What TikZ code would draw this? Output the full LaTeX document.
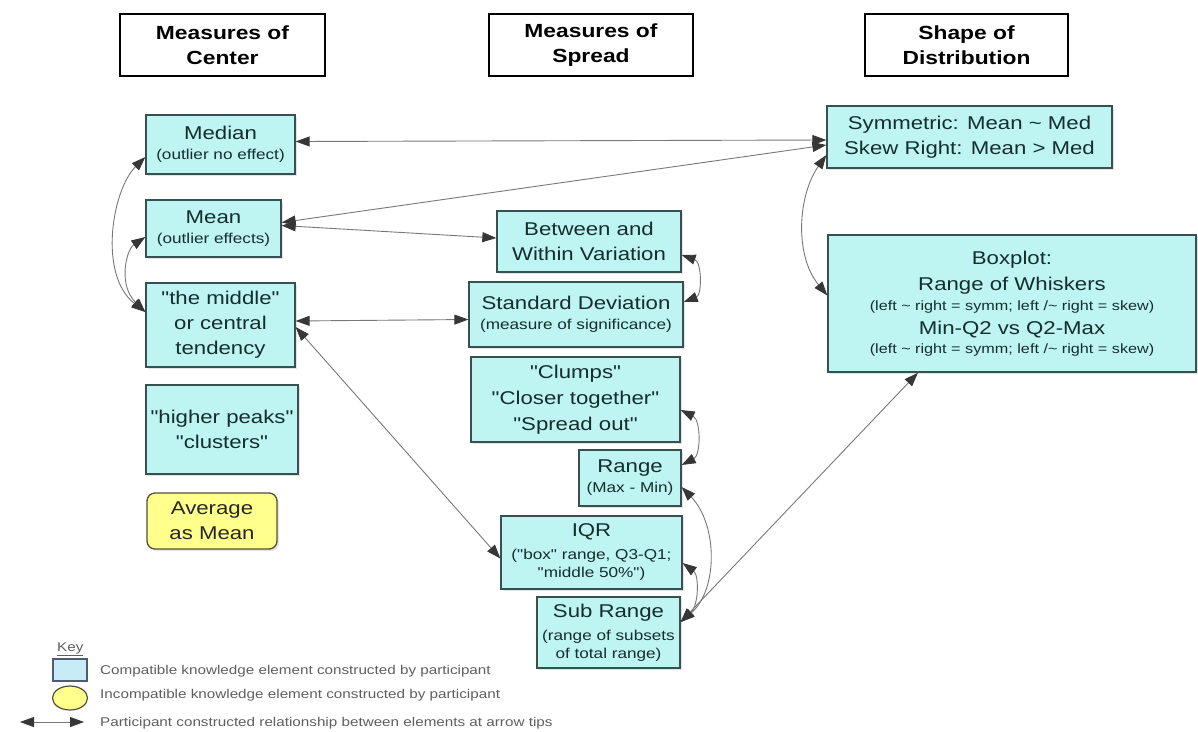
\documentclass[tikz,border=0pt]{standalone}
\usepackage{fontspec}
\setmainfont{Liberation Sans}[FakeStretch=1.2, Ligatures=TeXOff]
\usetikzlibrary{arrows.meta,shapes.geometric,shadows,calc}
\definecolor{cyanfill}{RGB}{190,245,243}
\definecolor{cborder}{RGB}{55,80,80}
\definecolor{ctext}{RGB}{20,45,45}
\definecolor{yfill}{RGB}{255,255,140}
\definecolor{yborder}{RGB}{80,80,55}
\definecolor{linegray}{RGB}{120,120,120}
\definecolor{tipgray}{RGB}{55,55,55}
\definecolor{keytext}{RGB}{95,95,95}
\definecolor{keyblue}{RGB}{200,236,246}
\definecolor{keyborder}{RGB}{80,90,120}
\newcommand{\MyMain}{\fontsize{18.5}{25}\selectfont}
\newcommand{\MySub}{\fontsize{14.3}{17.5}\selectfont}
\newcommand{\MyTiny}{\fontsize{13.5}{17}\selectfont}
\newcommand{\MyHdr}{\fontsize{19}{25}\selectfont\bfseries}
\newcommand{\MyKey}{\fontsize{12.7}{15}\selectfont}
\begin{document}
\begin{tikzpicture}[x=1pt,y=-1pt,
  hdr/.style={draw=black, line width=2.5pt, fill=white, align=center, inner sep=0pt, font=\MyHdr},
  cbox/.style={draw=cborder, line width=1.3pt, fill=cyanfill, text=ctext, align=center, inner sep=0pt, font=\MyMain,
    drop shadow={shadow xshift=2pt, shadow yshift=-2pt, opacity=0.22}},
  ybox/.style={draw=yborder, line width=1.3pt, fill=yfill, text=black!85, align=center, inner sep=0pt, font=\MyMain,
    rounded corners=8pt, drop shadow={shadow xshift=2pt, shadow yshift=-2pt, opacity=0.22}},
  rel/.style={draw=linegray, line width=0.9pt,
    {Triangle[length=14pt,width=10pt,color=tipgray]}-{Triangle[length=14pt,width=10pt,color=tipgray]}},
  keylabel/.style={font=\MyKey, text=keytext, anchor=base west, inner sep=0pt}
]
\fill[white] (0,0) rectangle (1198,731);
\useasboundingbox (0,0) rectangle (1198,731);

% headers
\node[hdr, minimum width=205pt, minimum height=62pt] (hc) at (222.5,45) {Measures of\\Center};
\node[hdr, minimum width=204pt, minimum height=62pt] (hs) at (591,45) {Measures of\\Spread};
\node[hdr, minimum width=203pt, minimum height=62pt] (hd) at (966.5,45) {Shape of\\Distribution};

% center column
\node[cbox, minimum width=149pt, minimum height=59pt] (median) at (220.5,144.5) {Median\\[-5pt]{\MySub (outlier no effect)}};
\node[cbox, minimum width=135pt, minimum height=57pt] (mean) at (213.5,228.5) {Mean\\[-5pt]{\MySub (outlier effects)}};
\node[cbox, minimum width=149pt, minimum height=84pt] (middle) at (220.5,325) {"the middle"\\or central\\tendency};
\node[cbox, minimum width=152pt, minimum height=89pt] (peaks) at (222,429.5) {"higher peaks"\\"clusters"};
\node[ybox, minimum width=130pt, minimum height=56pt] (avg) at (212,521) {Average\\as Mean};

% spread column
\node[cbox, minimum width=184pt, minimum height=61pt] (between) at (589,241.5) {Between and\\Within Variation};
\node[cbox, minimum width=214pt, minimum height=65pt] (sd) at (576,314.5) {Standard Deviation\\[-5pt]{\MySub (measure of significance)}};
\node[cbox, minimum width=209pt, minimum height=85pt] (clumps) at (575.5,399.5) {"Clumps"\\[1pt]"Closer together"\\[1pt]"Spread out"};
\node[cbox, minimum width=102pt, minimum height=56pt] (range) at (630,478) {Range\\[-5pt]{\MySub (Max - Min)}};
\node[cbox, minimum width=181pt, minimum height=73pt] (iqr) at (591.5,552.5) {IQR\\[-2pt]{\MySub ("box" range, Q3-Q1;}\\[-7pt]{\MySub "middle 50\%")}};
\node[cbox, minimum width=143pt, minimum height=71pt] (sub) at (608.5,632.5) {Sub Range\\[-2pt]{\MySub (range of subsets}\\[-7pt]{\MySub of total range)}};

% shape column
\node[cbox, minimum width=285pt, minimum height=62pt] (sym) at (969.5,137) {Symmetric: Mean \textasciitilde{} Med\\Skew Right: Mean > Med};
\node[cbox, minimum width=368pt, minimum height=137pt] (box) at (1012,303.5) {Boxplot:\\[1pt]Range of Whiskers\\[-5pt]{\MyTiny (left \textasciitilde{} right = symm; left /\textasciitilde{} right = skew)}\\[-1pt]Min-Q2 vs Q2-Max\\[-6pt]{\MyTiny (left \textasciitilde{} right = symm; left /\textasciitilde{} right = skew)}};

% connectors
\draw[rel] ([yshift=3pt]median.east) -- ([yshift=-3pt]sym.west);
\draw[rel] ([yshift=6pt]mean.east) -- ([yshift=-8pt]sym.west);
\draw[rel] ([yshift=3pt]mean.east) -- ([yshift=3.5pt]between.west);
\draw[rel] ([yshift=-12.5pt]median.west) .. controls (112,190) and (98,275) .. ([yshift=13pt]middle.west);
\draw[rel] ([yshift=-8.5pt]mean.west) .. controls (126,250) and (118,285) .. ([yshift=13pt]middle.west);
\draw[rel] ([yshift=4pt]middle.east) -- ([yshift=-5pt]sd.west);
\draw[rel] ([yshift=-2pt]middle.east) -- ([yshift=-6pt]iqr.west);
\draw[rel] ([yshift=-18pt]sym.west) .. controls (798,195) and (794,255) .. ([yshift=8pt]box.west);
\draw[rel] ([yshift=-13.5pt]between.east) .. controls (702,262) and (702,295) .. ([yshift=12.5pt]sd.east);
\draw[rel] ([yshift=-10.5pt]clumps.east) .. controls (701,420) and (701,455) .. ([yshift=13pt]range.east);
\draw[rel] ([yshift=-9pt]range.east) .. controls (718,525) and (718,590) .. ([yshift=10.5pt]sub.east);
\draw[rel] ([yshift=-10.5pt]iqr.east) .. controls (699,575) and (699,605) .. ([yshift=10.5pt]sub.east);
\draw[rel] ([yshift=10.5pt]sub.east) -- ([xshift=-94pt]box.south);

% key
\node[keylabel] (keyt) at (57,651) {\underline{Key}};
\node[draw=keyborder, line width=1.2pt, fill=keyblue, minimum width=34pt, minimum height=22pt, inner sep=0pt] (kbox) at (70,670) {};
\node[ellipse, draw=yborder, line width=1.2pt, fill=yfill, minimum width=35pt, minimum height=24pt, inner sep=0pt] (kell) at (70,698) {};
\coordinate (ka1) at (20,722);
\coordinate (ka2) at (84,722);
\draw[rel] (ka1) -- (ka2);
\node[keylabel] (k1) at (100,674) {Compatible knowledge element constructed by participant};
\node[keylabel] (k2) at (100,698) {Incompatible knowledge element constructed by participant};
\node[keylabel] (k3) at (100,726) {Participant constructed relationship between elements at arrow tips};
\end{tikzpicture}
\end{document}
